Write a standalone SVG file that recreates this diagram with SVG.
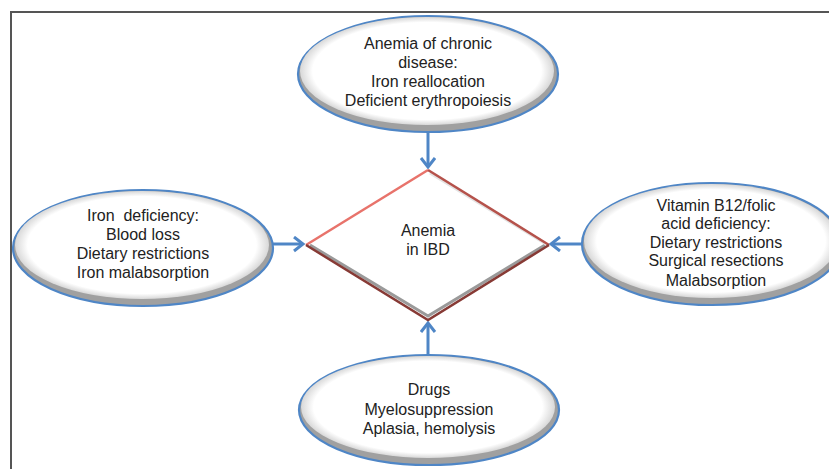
<svg xmlns="http://www.w3.org/2000/svg" width="829" height="469" viewBox="0 0 829 469">
<style>
.frame{stroke:#555;stroke-width:2;fill:none}
.ell{fill:#a0a0a0;stroke:#4f86c6;stroke-width:2.2}
.in{fill:url(#eg)}
.t{font-family:"Liberation Sans",Arial,sans-serif;font-size:16px;fill:#222;text-anchor:middle}
.conn{stroke:#4f86c6;stroke-width:3;fill:none;marker-end:url(#ah)}
</style>
<defs>
<radialGradient id="eg" cx="0.5" cy="0.5" r="0.5">
<stop offset="0" stop-color="#ffffff"/>
<stop offset="0.9" stop-color="#ffffff"/>
<stop offset="1" stop-color="#d8d8d8"/>
</radialGradient>
<marker id="ah" markerUnits="userSpaceOnUse" markerWidth="16" markerHeight="18" refX="11" refY="8" orient="auto">
<path d="M2,1 L11,8 L2,15" fill="none" stroke="#4f86c6" stroke-width="3"/>
</marker>
</defs>
<rect width="829" height="469" fill="#fff"/>
<path class="frame" d="M11,469 V12 H829"/>
<g id="connectors">
<line class="conn" x1="428" y1="133" x2="428" y2="167"/>
<line class="conn" x1="273" y1="244" x2="303" y2="244"/>
<line class="conn" x1="582" y1="244" x2="551" y2="244"/>
<line class="conn" x1="428" y1="355" x2="428" y2="323"/>
</g>
<g id="top">
<ellipse class="ell" cx="428" cy="74" rx="130" ry="58"/>
<ellipse class="in" cx="427" cy="71" rx="127" ry="54"/>
<text class="t" x="428" y="49">Anemia of chronic</text>
<text class="t" x="428" y="68">disease:</text>
<text class="t" x="428" y="87">Iron reallocation</text>
<text class="t" x="428" y="106">Deficient erythropoiesis</text>
</g>
<g id="left">
<ellipse class="ell" cx="143" cy="248" rx="130" ry="58"/>
<ellipse class="in" cx="142" cy="245" rx="127" ry="54"/>
<text class="t" x="143" y="221" xml:space="preserve">Iron  deficiency:</text>
<text class="t" x="143" y="240">Blood loss</text>
<text class="t" x="143" y="259">Dietary restrictions</text>
<text class="t" x="143" y="278">Iron malabsorption</text>
</g>
<g id="right">
<ellipse class="ell" cx="712" cy="244" rx="130" ry="61"/>
<ellipse class="in" cx="711" cy="241" rx="127" ry="57"/>
<text class="t" x="716" y="211">Vitamin B12/folic</text>
<text class="t" x="716" y="229">acid deficiency:</text>
<text class="t" x="716" y="248">Dietary restrictions</text>
<text class="t" x="716" y="266">Surgical resections</text>
<text class="t" x="716" y="286">Malabsorption</text>
</g>
<g id="bottom">
<ellipse class="ell" cx="429" cy="410" rx="130" ry="55"/>
<ellipse class="in" cx="428" cy="407" rx="127" ry="51"/>
<text class="t" x="429" y="395">Drugs</text>
<text class="t" x="429" y="415">Myelosuppression</text>
<text class="t" x="429" y="434">Aplasia, hemolysis</text>
</g>
<g id="center">
<polygon points="428,170 549,245 428,320 306,245" fill="#fff"/>
<polyline points="310,245 428,316 545,245" fill="none" stroke="#9a9a9a" stroke-width="3"/>
<polyline points="430,173 546,244" fill="none" stroke="#e4e4e4" stroke-width="3"/>
<line x1="306" y1="245" x2="428" y2="170" stroke="#e8736b" stroke-width="2.5"/>
<line x1="428" y1="170" x2="549" y2="245" stroke="#b5524b" stroke-width="2.5"/>
<polyline points="306,245 428,320 549,245" fill="none" stroke="#873a35" stroke-width="2.5"/>
<text class="t" x="428" y="236">Anemia</text>
<text class="t" x="428" y="255">in IBD</text>
</g>
</svg>
